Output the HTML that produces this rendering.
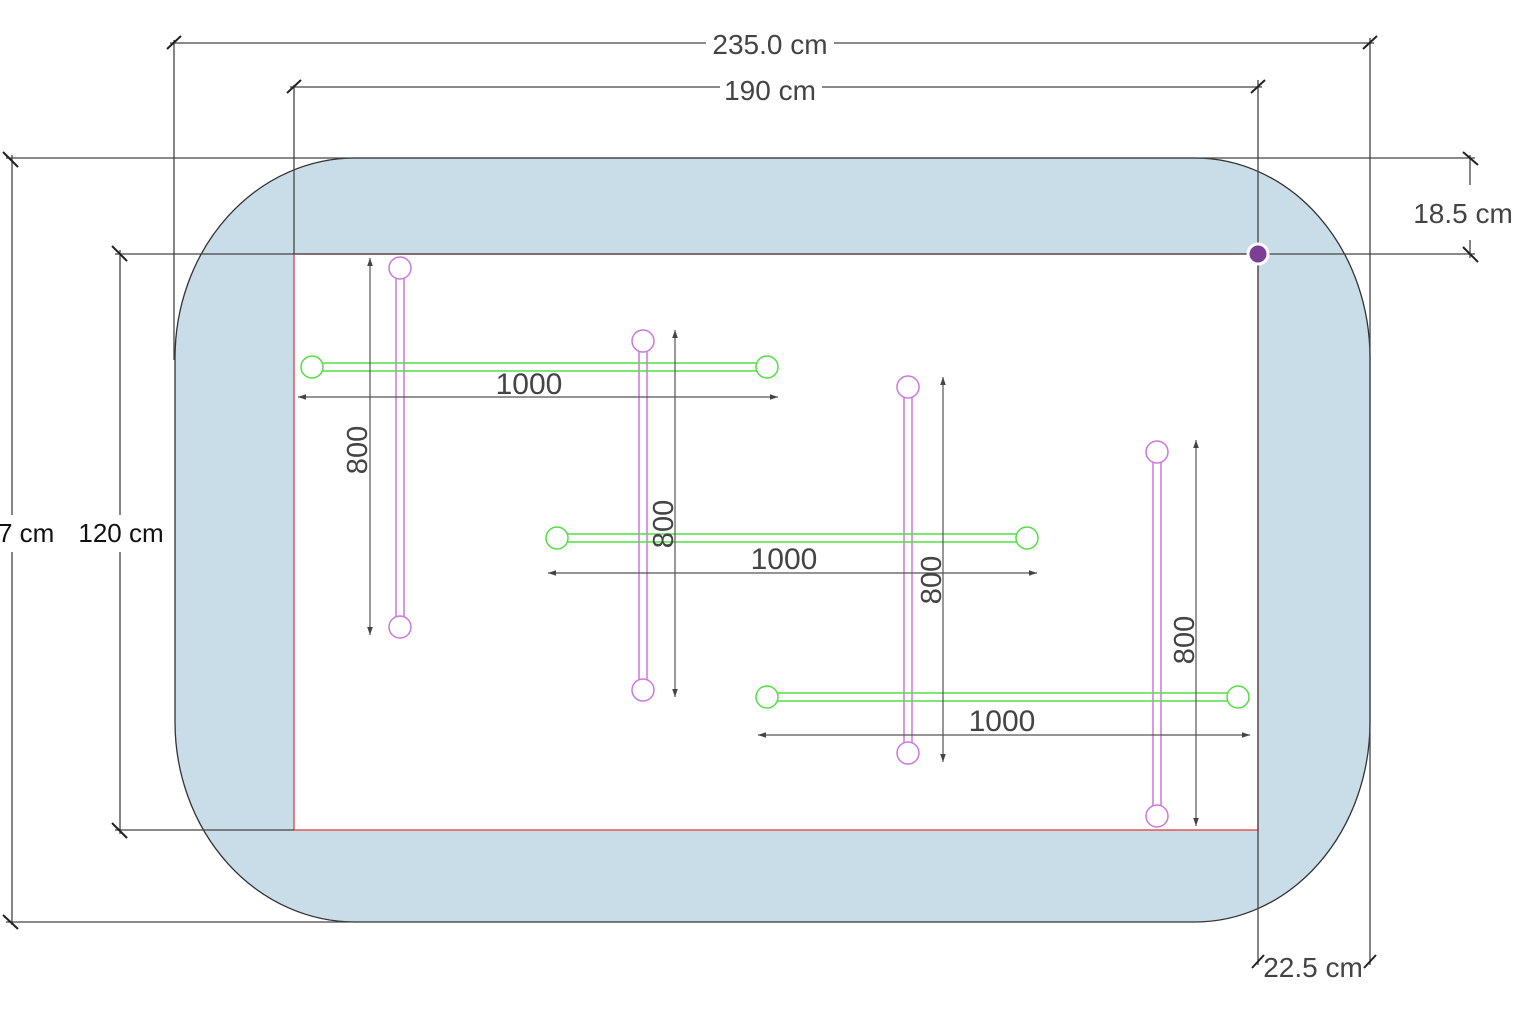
<!DOCTYPE html>
<html><head><meta charset="utf-8"><style>body{margin:0;background:#fff}svg{display:block}text{font-family:"Liberation Sans",sans-serif;fill:#444}</style></head><body>
<svg width="1536" height="1024" viewBox="0 0 1536 1024" xmlns="http://www.w3.org/2000/svg">
<defs>
<marker id="a" viewBox="0 0 10 10" refX="10" refY="5" markerWidth="14" markerHeight="8" orient="auto-start-reverse" markerUnits="userSpaceOnUse"><path d="M0,1.5 L10,5 L0,8.5 Z" fill="#444"/></marker>
</defs>
<path d="M355,158 H1195 A175,200 0 0 1 1370,358 V722 A175,200 0 0 1 1195,922 H355 A180,200 0 0 1 175,722 V358 A180,200 0 0 1 355,158 Z" fill="#c9dde9" stroke="#333" stroke-width="1.3"/>
<rect x="294" y="254" width="964" height="576" fill="#fff" stroke="#e04040" stroke-width="1.3"/>
<g stroke="#444" stroke-width="1.3" fill="none">
<line x1="174" y1="40" x2="174" y2="360"/>
<line x1="294" y1="85" x2="294" y2="254"/>
<line x1="1258" y1="80" x2="1258" y2="965"/>
<line x1="1370" y1="38" x2="1370" y2="965"/>
<line x1="170" y1="43" x2="706" y2="43"/><line x1="834" y1="43" x2="1374" y2="43"/>
<line x1="290" y1="87" x2="720" y2="87"/><line x1="822" y1="87" x2="1262" y2="87"/>
<line x1="6" y1="158" x2="1475" y2="158"/>
<line x1="115" y1="254" x2="1475" y2="254"/>
<line x1="115" y1="830" x2="294" y2="830"/>
<line x1="6" y1="922" x2="350" y2="922"/>
<line x1="12" y1="155" x2="12" y2="515"/><line x1="12" y1="552" x2="12" y2="925"/>
<line x1="120" y1="250" x2="120" y2="515"/><line x1="120" y1="552" x2="120" y2="834"/>
<line x1="1470" y1="155" x2="1470" y2="185"/><line x1="1470" y1="240" x2="1470" y2="258"/>
</g>
<g stroke="#222" stroke-width="2">
<line x1="167" y1="49" x2="181" y2="36"/><line x1="1363" y1="49" x2="1377" y2="36"/>
<line x1="287" y1="93" x2="301" y2="80"/><line x1="1251" y1="93" x2="1265" y2="80"/>
<line x1="3" y1="152" x2="18" y2="167"/><line x1="3" y1="915" x2="18" y2="929"/>
<line x1="112" y1="246" x2="127" y2="261"/><line x1="112" y1="823" x2="127" y2="838"/>
<line x1="1463" y1="152" x2="1478" y2="165"/><line x1="1463" y1="247" x2="1478" y2="262"/>
<line x1="1252" y1="968" x2="1264" y2="955"/><line x1="1364" y1="968" x2="1376" y2="955"/>
</g>
<text x="770" y="54" font-size="28" text-anchor="middle">235.0 cm</text>
<text x="770" y="100" font-size="28" text-anchor="middle">190 cm</text>
<text x="1463" y="223" font-size="28" text-anchor="middle">18.5 cm</text>
<text x="1313" y="977" font-size="28" text-anchor="middle">22.5 cm</text>
<text x="-2" y="542" font-size="26" style="fill:#111">7 cm</text>
<text x="121" y="542" font-size="26" text-anchor="middle" style="fill:#111">120 cm</text>
<circle cx="1258" cy="254" r="10" fill="#7b3f96" stroke="#fff" stroke-width="3"/>
<g fill="#fff" stroke="#cc77dd" stroke-width="1.5">
<rect x="396" y="268" width="8" height="359"/><circle cx="400" cy="268" r="11"/><circle cx="400" cy="627" r="11"/>
<rect x="639" y="341" width="8" height="349"/><circle cx="643" cy="341" r="11"/><circle cx="643" cy="690" r="11"/>
<rect x="904" y="387" width="8" height="366"/><circle cx="908" cy="387" r="11"/><circle cx="908" cy="753" r="11"/>
<rect x="1153" y="452" width="8" height="364"/><circle cx="1157" cy="452" r="11"/><circle cx="1157" cy="816" r="11"/>
</g>
<g fill="none" stroke="#55dd44" stroke-width="1.5">
<rect x="312" y="363" width="455" height="8"/><circle cx="312" cy="367" r="11" fill="#fff"/><circle cx="767" cy="367" r="11" fill="#fff"/>
<rect x="557" y="534" width="470" height="8"/><circle cx="557" cy="538" r="11" fill="#fff"/><circle cx="1027" cy="538" r="11" fill="#fff"/>
<rect x="767" y="693" width="471" height="8"/><circle cx="767" cy="697" r="11" fill="#fff"/><circle cx="1238" cy="697" r="11" fill="#fff"/>
</g>
<g stroke="#555" stroke-width="1.2" marker-start="url(#a)" marker-end="url(#a)">
<line x1="370" y1="258" x2="370" y2="635"/>
<line x1="675" y1="330" x2="675" y2="697"/>
<line x1="943" y1="377" x2="943" y2="762"/>
<line x1="1196" y1="440" x2="1196" y2="826"/>
<line x1="298" y1="397" x2="778" y2="397"/>
<line x1="548" y1="573" x2="1037" y2="573"/>
<line x1="758" y1="735" x2="1250" y2="735"/>
</g>
<g font-size="30" text-anchor="middle">
<text x="529" y="394">1000</text><text x="784" y="569">1000</text><text x="1002" y="731">1000</text>
<g font-size="29">
<text transform="translate(367,450) rotate(-90)">800</text>
<text transform="translate(673,524) rotate(-90)">800</text>
<text transform="translate(941,580) rotate(-90)">800</text>
<text transform="translate(1194,640) rotate(-90)">800</text>
</g>
</g>
</svg>
</body></html>
